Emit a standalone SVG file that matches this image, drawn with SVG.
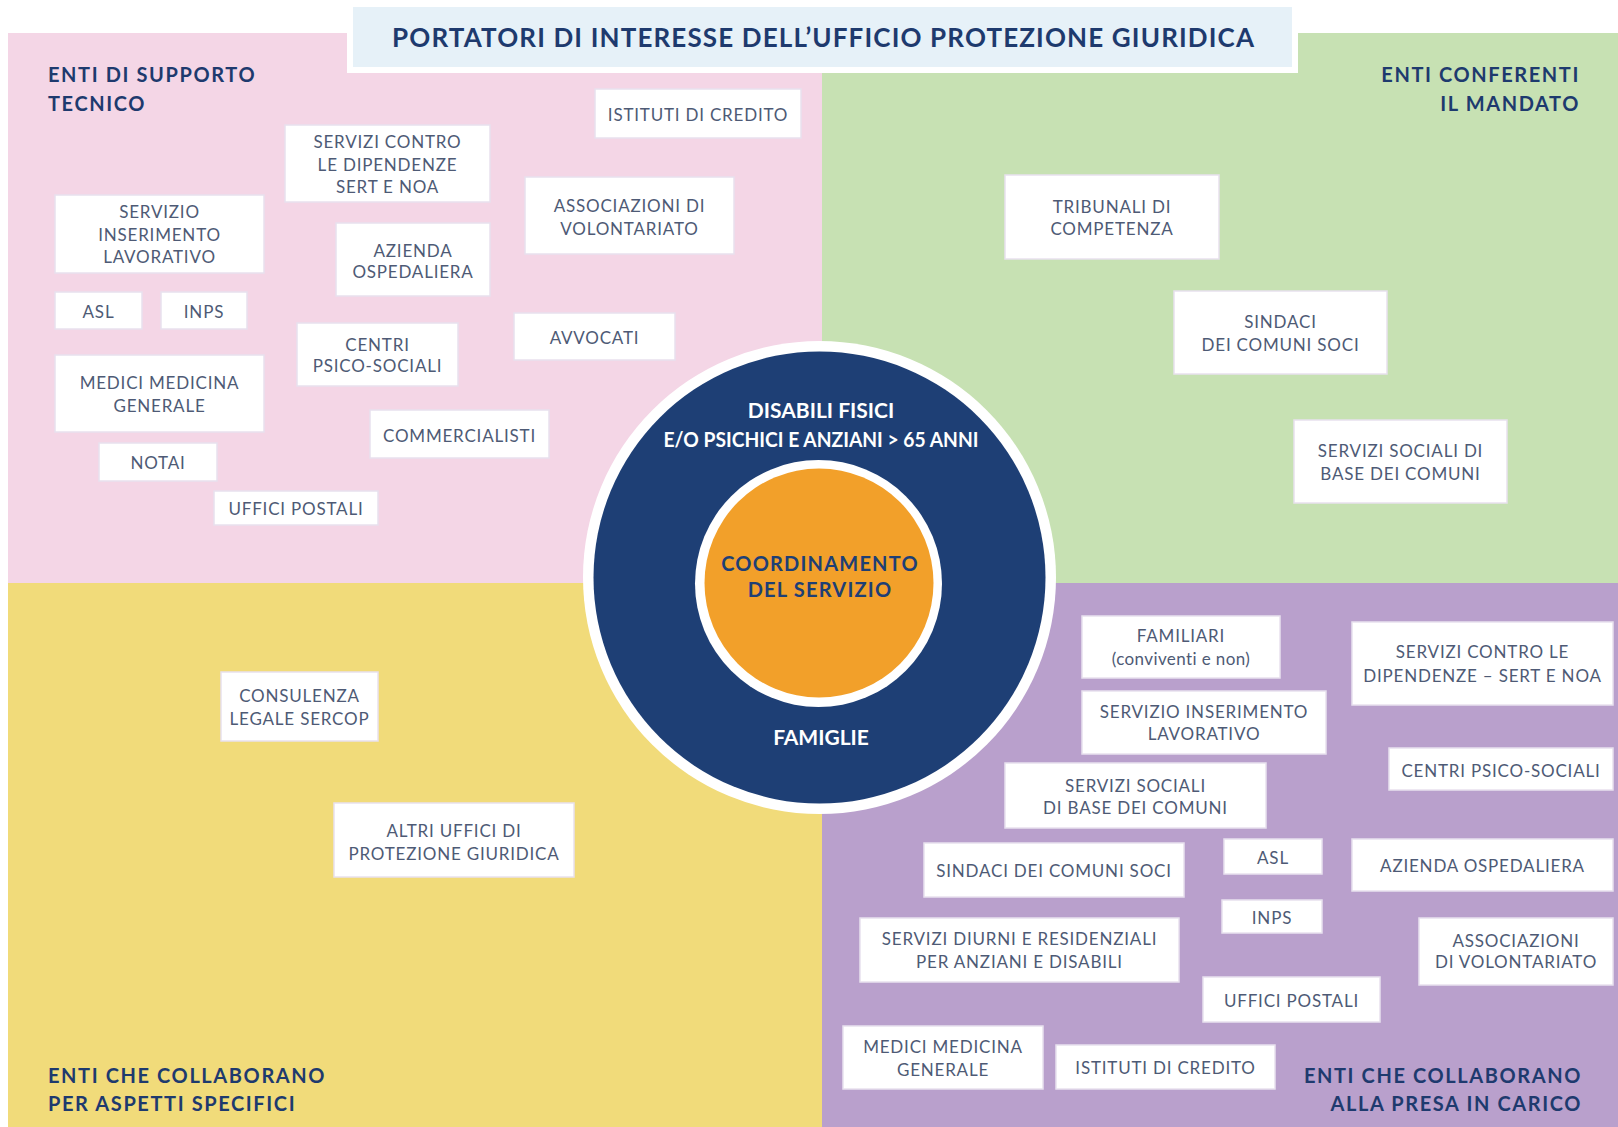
<svg xmlns="http://www.w3.org/2000/svg" width="1618" height="1127" viewBox="0 0 1618 1127">
<style>
.box rect{fill:#ffffff;stroke:#e8e1ee;stroke-width:1.5}
.box text{font-family:Lato,"Open Sans","Liberation Sans",sans-serif;font-size:17px;fill:#4e5a75;text-anchor:middle;letter-spacing:0.8px}
.qt{font-family:Lato,"Open Sans","Liberation Sans",sans-serif;font-size:20px;font-weight:bold;fill:#1e3a6e;letter-spacing:1.6px}
.ring{font-family:Lato,"Open Sans","Liberation Sans",sans-serif;font-size:20px;font-weight:bold;fill:#ffffff;text-anchor:middle}
.core{font-family:Lato,"Open Sans","Liberation Sans",sans-serif;font-size:20px;font-weight:bold;fill:#1e3f75;text-anchor:middle;letter-spacing:1.2px}
</style>
<rect x="0" y="0" width="1618" height="1127" fill="#ffffff"/>
<g id="quadrants">
<rect x="8" y="33" width="814" height="550" fill="#f4d6e6"/>
<rect x="822" y="33" width="796" height="550" fill="#c7e1b3"/>
<rect x="8" y="583" width="814" height="544" fill="#f1db7a"/>
<rect x="822" y="583" width="796" height="544" fill="#b9a0cc"/>
</g>
<g id="title">
<rect x="347" y="2" width="951" height="71" fill="#ffffff"/>
<rect x="353" y="7" width="939" height="60" fill="#e6f1f8"/>
<text x="823" y="47" text-anchor="middle" textLength="862" lengthAdjust="spacing" style="font-family:Lato,'Open Sans','Liberation Sans',sans-serif;font-size:26px;font-weight:bold;fill:#1e3a6e">PORTATORI DI INTERESSE DELL’UFFICIO PROTEZIONE GIURIDICA</text>
</g>
<g id="quadrant-labels">
<text class="qt" x="48" y="82">ENTI DI SUPPORTO</text>
<text class="qt" x="48" y="111">TECNICO</text>
<text class="qt" x="1580" y="82" text-anchor="end">ENTI CONFERENTI</text>
<text class="qt" x="1580" y="111" text-anchor="end">IL MANDATO</text>
<text class="qt" x="48" y="1083">ENTI CHE COLLABORANO</text>
<text class="qt" x="48" y="1111">PER ASPETTI SPECIFICI</text>
<text class="qt" x="1582" y="1083" text-anchor="end">ENTI CHE COLLABORANO</text>
<text class="qt" x="1582" y="1111" text-anchor="end">ALLA PRESA IN CARICO</text>
</g>
<g id="center">
<circle cx="819.5" cy="577.5" r="236.5" fill="#ffffff"/>
<circle cx="819.5" cy="577.5" r="226" fill="#1e3f75"/>
<circle cx="818.5" cy="583.5" r="123.5" fill="#ffffff"/>
<circle cx="819" cy="583" r="114.5" fill="#f2a02a"/>
<text class="ring" x="821" y="418" style="font-size:21px">DISABILI FISICI</text>
<text class="ring" x="821" y="447" textLength="315" lengthAdjust="spacingAndGlyphs" style="font-size:21px">E/O PSICHICI E ANZIANI &gt; 65 ANNI</text>
<text class="ring" x="821" y="745" style="font-size:21px">FAMIGLIE</text>
<text class="core" x="820" y="571">COORDINAMENTO</text>
<text class="core" x="820" y="597">DEL SERVIZIO</text>
</g>
<g id="connectors"></g>
<g id="n-istituti-1" class="box"><rect x="595" y="89" width="206" height="49"/><text x="698" y="121">ISTITUTI DI CREDITO</text></g>
<g id="n-sert-1" class="box"><rect x="285" y="125" width="205" height="77"/><text x="387.5" y="148">SERVIZI CONTRO</text><text x="387.5" y="171">LE DIPENDENZE</text><text x="387.5" y="193">SERT E NOA</text></g>
<g id="n-sil-1" class="box"><rect x="55" y="195" width="209" height="78"/><text x="159.5" y="218">SERVIZIO</text><text x="159.5" y="241">INSERIMENTO</text><text x="159.5" y="263">LAVORATIVO</text></g>
<g id="n-azienda-1" class="box"><rect x="336" y="223" width="154" height="73"/><text x="413" y="257">AZIENDA</text><text x="413" y="278">OSPEDALIERA</text></g>
<g id="n-assoc-1" class="box"><rect x="525" y="177" width="209" height="77"/><text x="629.5" y="212">ASSOCIAZIONI DI</text><text x="629.5" y="235">VOLONTARIATO</text></g>
<g id="n-asl-1" class="box"><rect x="55" y="292" width="87" height="37"/><text x="98.5" y="318">ASL</text></g>
<g id="n-inps-1" class="box"><rect x="161" y="292" width="86" height="37"/><text x="204" y="318">INPS</text></g>
<g id="n-cps-1" class="box"><rect x="297" y="323" width="161" height="63"/><text x="377.5" y="351">CENTRI</text><text x="377.5" y="372">PSICO-SOCIALI</text></g>
<g id="n-avvocati" class="box"><rect x="514" y="313" width="161" height="47"/><text x="594.5" y="344">AVVOCATI</text></g>
<g id="n-mmg-1" class="box"><rect x="55" y="355" width="209" height="77"/><text x="159.5" y="389">MEDICI MEDICINA</text><text x="159.5" y="412">GENERALE</text></g>
<g id="n-commercialisti" class="box"><rect x="370" y="410" width="179" height="48"/><text x="459.5" y="442">COMMERCIALISTI</text></g>
<g id="n-notai" class="box"><rect x="99" y="443" width="118" height="38"/><text x="158" y="469">NOTAI</text></g>
<g id="n-poste-1" class="box"><rect x="214" y="491" width="164" height="34"/><text x="296" y="515">UFFICI POSTALI</text></g>
<g id="n-tribunali" class="box"><rect x="1005" y="175" width="214" height="84"/><text x="1112" y="213">TRIBUNALI DI</text><text x="1112" y="235">COMPETENZA</text></g>
<g id="n-sindaci-1" class="box"><rect x="1174" y="291" width="213" height="83"/><text x="1280.5" y="328">SINDACI</text><text x="1280.5" y="351">DEI COMUNI SOCI</text></g>
<g id="n-ssb-1" class="box"><rect x="1294" y="420" width="213" height="83"/><text x="1400.5" y="457">SERVIZI SOCIALI DI</text><text x="1400.5" y="480">BASE DEI COMUNI</text></g>
<g id="n-sercop" class="box"><rect x="221" y="672" width="157" height="69"/><text x="299.5" y="702">CONSULENZA</text><text x="299.5" y="725">LEGALE SERCOP</text></g>
<g id="n-altri" class="box"><rect x="334" y="803" width="240" height="74"/><text x="454" y="837">ALTRI UFFICI DI</text><text x="454" y="860">PROTEZIONE GIURIDICA</text></g>
<g id="n-familiari" class="box"><rect x="1082" y="616" width="198" height="62"/><text x="1181" y="642">FAMILIARI</text><text x="1181" y="665" style="letter-spacing:0.4px">(conviventi e non)</text></g>
<g id="n-sert-2" class="box"><rect x="1352" y="622" width="261" height="83"/><text x="1482.5" y="658">SERVIZI CONTRO LE</text><text x="1482.5" y="682">DIPENDENZE – SERT E NOA</text></g>
<g id="n-sil-2" class="box"><rect x="1082" y="691" width="244" height="63"/><text x="1204" y="718">SERVIZIO INSERIMENTO</text><text x="1204" y="740">LAVORATIVO</text></g>
<g id="n-cps-2" class="box"><rect x="1389" y="748" width="224" height="42"/><text x="1501" y="777">CENTRI PSICO-SOCIALI</text></g>
<g id="n-ssb-2" class="box"><rect x="1005" y="763" width="261" height="65"/><text x="1135.5" y="792">SERVIZI SOCIALI</text><text x="1135.5" y="814">DI BASE DEI COMUNI</text></g>
<g id="n-asl-2" class="box"><rect x="1224" y="839" width="98" height="35"/><text x="1273" y="864">ASL</text></g>
<g id="n-azienda-2" class="box"><rect x="1352" y="839" width="261" height="52"/><text x="1482.5" y="872">AZIENDA OSPEDALIERA</text></g>
<g id="n-sindaci-2" class="box"><rect x="924" y="843" width="260" height="54"/><text x="1054" y="877">SINDACI DEI COMUNI SOCI</text></g>
<g id="n-inps-2" class="box"><rect x="1222" y="900" width="100" height="33"/><text x="1272" y="924">INPS</text></g>
<g id="n-diurni" class="box"><rect x="860" y="918" width="319" height="64"/><text x="1019.5" y="945">SERVIZI DIURNI E RESIDENZIALI</text><text x="1019.5" y="968">PER ANZIANI E DISABILI</text></g>
<g id="n-assoc-2" class="box"><rect x="1419" y="918" width="194" height="67"/><text x="1516" y="947">ASSOCIAZIONI</text><text x="1516" y="968">DI VOLONTARIATO</text></g>
<g id="n-poste-2" class="box"><rect x="1203" y="977" width="177" height="45"/><text x="1291.5" y="1007">UFFICI POSTALI</text></g>
<g id="n-mmg-2" class="box"><rect x="843" y="1026" width="200" height="63"/><text x="943" y="1053">MEDICI MEDICINA</text><text x="943" y="1076">GENERALE</text></g>
<g id="n-istituti-2" class="box"><rect x="1056" y="1045" width="219" height="44"/><text x="1165.5" y="1074">ISTITUTI DI CREDITO</text></g>
</svg>
